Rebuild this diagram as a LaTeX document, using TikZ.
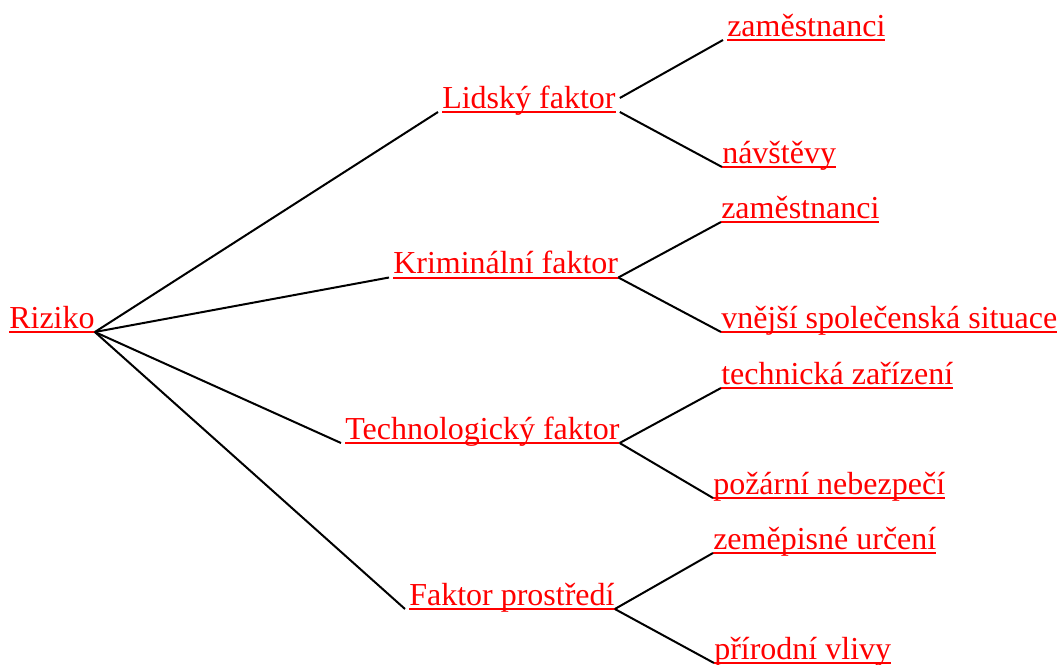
\documentclass[tikz,border=0pt]{standalone}
\usepackage{fontspec}
\setmainfont{Liberation Serif}
% underlined label text: rule a little below the baseline, full text width
\newcommand\ulabel[1]{\setbox0\hbox{#1}\rlap{\rule[-3.8pt]{\wd0}{1.5pt}}\box0}
\tikzset{
  lbl/.style={text=red, inner sep=0pt, anchor=base west, font=\fontsize{24pt}{28pt}\selectfont},
  link/.style={draw=black, line width=1.5pt},
}
\begin{document}
\begin{tikzpicture}[x=0.75pt,y=-0.75pt]
\useasboundingbox (0,0) rectangle (1059,664);
% root
\node[lbl] (riz) at (9,328) {\ulabel{Riziko}};
% factors
\node[lbl] (lid) at (442,108) {\ulabel{Lidský faktor}};
\node[lbl] (kri) at (393,273.5) {\ulabel{Kriminální faktor}};
\node[lbl] (tec) at (345,439) {\ulabel{Technologický faktor}};
\node[lbl] (pro) at (409,605) {\ulabel{Faktor prostředí}};
% leaves
\node[lbl] (l1) at (727,36) {\ulabel{zaměstnanci}};
\node[lbl] (l2) at (722,163) {\ulabel{návštěvy}};
\node[lbl] (k1) at (721,218) {\ulabel{zaměstnanci}};
\node[lbl] (k2) at (721,328) {\ulabel{vnější společenská situace}};
\node[lbl] (t1) at (721,384) {\ulabel{technická zařízení}};
\node[lbl] (t2) at (713,494) {\ulabel{požární nebezpečí}};
\node[lbl] (p1) at (713,549) {\ulabel{zeměpisné určení}};
\node[lbl] (p2) at (714,659) {\ulabel{přírodní vlivy}};
% root to factors
\foreach \f in {lid,kri,tec,pro}
  \draw[link] ([yshift=-3pt]riz.base east) -- ([xshift=-3pt,yshift=-3pt]\f.base west);
% factors to leaves
\draw[link] ([xshift=3pt,yshift=7.5pt]lid.base east) -- ([xshift=-3pt,yshift=-3pt]l1.base west);
\draw[link] ([xshift=3pt,yshift=-3pt]lid.base east) -- ([yshift=-3pt]l2.base west);
\foreach \f/\a/\b in {kri/k1/k2,tec/t1/t2,pro/p1/p2}{
  \draw[link] ([yshift=-3pt]\f.base east) -- ([yshift=-3pt]\a.base west);
  \draw[link] ([yshift=-3pt]\f.base east) -- ([yshift=-3pt]\b.base west);
}
\end{tikzpicture}
\end{document}
